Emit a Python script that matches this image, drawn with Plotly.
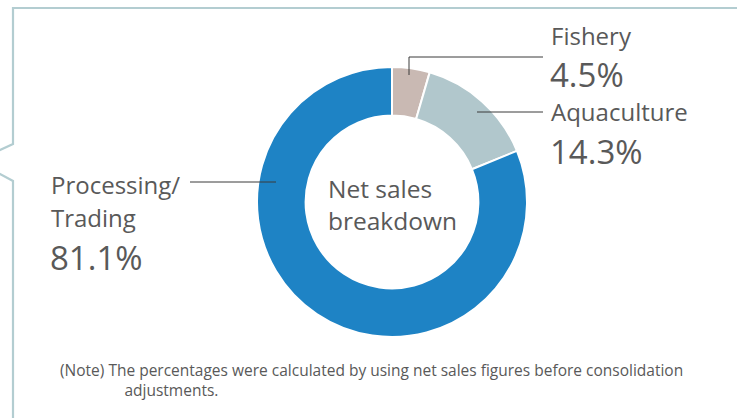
import plotly.graph_objects as go

categories = ["Fishery", "Aquaculture", "Processing/Trading"]
label_lines = [["Fishery"], ["Aquaculture"], ["Processing/", "Trading"]]
shares = [4.5, 14.3, 81.1]
colors = ["#c9b9b3", "#b1c7cc", "#1e83c5"]

W, H = 737, 418
FONT = "Open Sans"
TXT = "#595959"

def px(x):
    return x / W

def py(y):
    return 1 - y / H

cx, cy, R = 392, 202, 135

fig = go.Figure()
fig.add_trace(go.Pie(
    labels=categories, values=shares, sort=False, direction="clockwise",
    rotation=0, hole=0.64,
    marker=dict(colors=colors, line=dict(color="white", width=2)),
    textinfo="none", hoverinfo="label+value", showlegend=False,
    domain=dict(x=[px(cx - R), px(cx + R)], y=[py(cy + R), py(cy - R)]),
))

shapes = []
line_style = dict(color="#3a3a3a", width=1)
# leader lines
shapes.append(dict(type="path", xref="paper", yref="paper",
                   path=f"M {px(409)} {py(75)} L {px(409)} {py(57)} L {px(543)} {py(57)}",
                   line=line_style))
shapes.append(dict(type="line", xref="paper", yref="paper",
                   x0=px(477), y0=py(112), x1=px(543), y1=py(112), line=line_style))
shapes.append(dict(type="line", xref="paper", yref="paper",
                   x0=px(190), y0=py(182), x1=px(276), y1=py(182), line=line_style))
# callout frame
frame = f"M {px(W+5)} {py(8)} L {px(13)} {py(8)} L {px(13)} {py(144)} L {px(-2)} {py(151)} " \
        f"M {px(-2)} {py(173)} L {px(13)} {py(181)} L {px(13)} {py(H+5)}"
shapes.append(dict(type="path", xref="paper", yref="paper", path=frame,
                   line=dict(color="#b3cdd1", width=2.2)))

annotations = []
def ann(text, x, y, size, anchor="left", yanchor="middle"):
    annotations.append(dict(text=text, x=px(x), y=py(y), xref="paper", yref="paper",
                            xanchor=anchor, yanchor=yanchor, align="left", showarrow=False,
                            font=dict(family=FONT, size=size, color=TXT)))

pct = [f"{v:.1f}%" for v in shares]
ann(label_lines[0][0], 549, 35, 24)
ann(pct[0], 548, 74, 33)
ann(label_lines[1][0], 549, 111, 24)
ann(pct[1], 548, 151, 33)
ann(label_lines[2][0], 49, 184, 24)
ann(label_lines[2][1], 49, 217, 24)
ann(pct[2], 48, 257, 33)
ann("Net sales<br>breakdown", cx, 204, 24.5, anchor="center")
note = ("(Note) The percentages were calculated by using net sales figures before consolidation<br>"
        + "&nbsp;" * 16 + "adjustments.")
ann(note, 58, 380, 15.5)

fig.update_layout(width=W, height=H, autosize=False,
                  margin=dict(l=0, r=0, t=0, b=0),
                  paper_bgcolor="white", plot_bgcolor="white",
                  shapes=shapes, annotations=annotations)
fig.write_html("out.html", config={"displayModeBar": False},
               post_script="document.body.style.margin='0';")
